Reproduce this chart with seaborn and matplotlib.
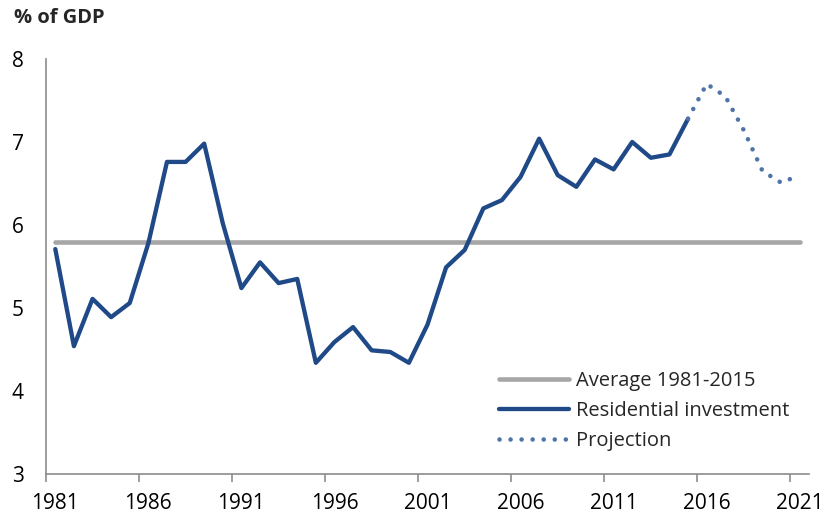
import matplotlib
matplotlib.use("Agg")
import matplotlib.pyplot as plt
import seaborn as sns
import pandas as pd

years = list(range(1981, 2016))
residential = [5.71, 4.54, 5.11, 4.89, 5.06, 5.78, 6.76, 6.76, 6.98, 6.02,
               5.24, 5.55, 5.30, 5.35, 4.34, 4.59, 4.77, 4.49, 4.47, 4.34,
               4.80, 5.49, 5.70, 6.20, 6.30, 6.58, 7.04, 6.60, 6.46, 6.79,
               6.67, 7.00, 6.81, 6.85, 7.28]
proj_years = [2015, 2016, 2017, 2018, 2019, 2020, 2021]
projection = [7.28, 7.70, 7.55, 7.14, 6.65, 6.51, 6.60]
avg_years = [1981, 2021]
average = [5.79, 5.79]
tick_years = [1981, 1986, 1991, 1996, 2001, 2006, 2011, 2016, 2021]
y_ticks = [3, 4, 5, 6, 7, 8]

sns.set_theme(style="white")
plt.rcParams['font.family'] = ['Open Sans', 'DejaVu Sans']

fig = plt.figure(figsize=(8.26, 5.18), dpi=100)
ax = fig.add_axes([46/826, 1-474/518, (809-46)/826, (474-59)/518])

df_avg = pd.DataFrame({"year": avg_years, "value": average})
df_res = pd.DataFrame({"year": years, "value": residential})
df_proj = pd.DataFrame({"year": proj_years, "value": projection})

blue = "#1f4a87"
sns.lineplot(data=df_avg, x="year", y="value", ax=ax, color="#a6a6a6", lw=3.3,
             solid_capstyle="round", label="Average 1981-2015")
sns.lineplot(data=df_res, x="year", y="value", ax=ax, color=blue, lw=3.1,
             solid_capstyle="round", label="Residential investment")
sns.lineplot(data=df_proj, x="year", y="value", ax=ax, color="#4f74a8", lw=3.3,
             linestyle=(0, (0.01, 2.4)), dash_capstyle="round", label="Projection")

ax.set_xlim(1980.5, 2021.5)
ax.set_ylim(3, 8)
# labels centred on categories, tick marks on category boundaries
ax.set_xticks(tick_years)
ax.set_xticklabels([str(t) for t in tick_years])
ax.set_xticks([t - 0.5 for t in tick_years], minor=True)
ax.set_yticks(y_ticks)
ax.set_yticklabels([str(t) for t in y_ticks])
ax.set_xlabel("")
ax.set_ylabel("")

for s in ["top", "right"]:
    ax.spines[s].set_visible(False)
for s in ["left", "bottom"]:
    ax.spines[s].set_color("#8c8c8c")
    ax.spines[s].set_linewidth(1.2)
ax.tick_params(axis="y", which="major", direction="out", length=5.5, width=1.2,
               color="#8c8c8c", labelsize=15, labelcolor="#000000", pad=10.5)
ax.tick_params(axis="x", which="major", length=0, labelsize=15,
               labelcolor="#000000", pad=13.5)
ax.tick_params(axis="x", which="minor", direction="out", length=5.5, width=1.2,
               color="#8c8c8c", bottom=True)

leg = ax.legend(loc="upper left", bbox_to_anchor=(0.583, 0.268), frameon=False,
                fontsize=14.5, handlelength=3.5, handletextpad=0.35, labelspacing=0.5,
                borderaxespad=0)

fig.text(14/826, 1-18/518, "% of GDP", fontsize=14.5, fontweight="bold",
         va="center", ha="left")

fig.savefig("out.png", dpi=100)
